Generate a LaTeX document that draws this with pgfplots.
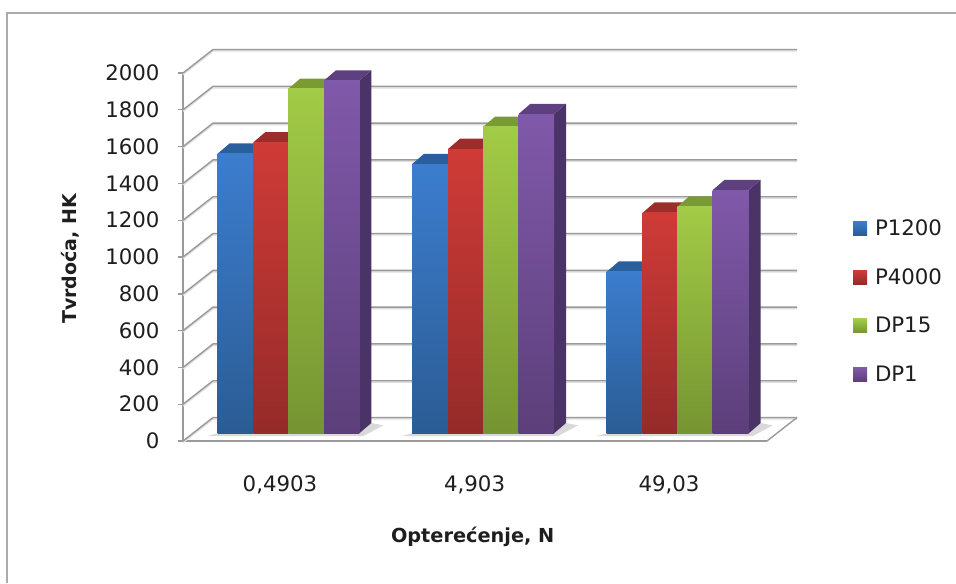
\documentclass[border=0pt]{standalone}
\usepackage{pgfplots}
\usepackage{fontspec}
\setmainfont{DejaVu Sans}
\pgfplotsset{compat=1.18}
\definecolor{gridc}{HTML}{9A9A9A}
\definecolor{gridl}{HTML}{DDDDDD}
\definecolor{frm}{HTML}{ABABAB}
\definecolor{txt}{HTML}{1E1E1E}
\definecolor{blueT}{HTML}{3C7DCE}\definecolor{blueB}{HTML}{2B5C94}\definecolor{blueH}{HTML}{2A5F9E}\definecolor{blueS}{HTML}{234C7C}
\definecolor{redT}{HTML}{CF3B37}\definecolor{redB}{HTML}{942B29}\definecolor{redH}{HTML}{9C2D2A}\definecolor{redS}{HTML}{7A2422}
\definecolor{greenT}{HTML}{A2CB46}\definecolor{greenB}{HTML}{759432}\definecolor{greenH}{HTML}{7A9A34}\definecolor{greenS}{HTML}{607A2A}
\definecolor{purpT}{HTML}{8059AA}\definecolor{purpB}{HTML}{5C3F7A}\definecolor{purpH}{HTML}{5E4080}\definecolor{purpS}{HTML}{4A3366}
\newcommand{\gridline}[1]{%
  \pgfmathsetmacro\ya{#1}\pgfmathsetmacro\yb{#1+127.7}\pgfmathsetmacro\yc{#1-8}\pgfmathsetmacro\yd{#1+119.7}%
  \addplot[gridl,line width=1.5bp,forget plot] coordinates {(183,\yc)(213,\yd)(797,\yd)};
  \addplot[gridc,line width=1.4bp,forget plot] coordinates {(183,\ya)(213,\yb)(797,\yb)};
}
\newcommand{\tdbar}[4]{%
  \pgfmathsetmacro\ytop{41.8+#3}\pgfmathsetmacro\ytb{97.8+#3}\pgfmathsetmacro\xbb{#2+12}\pgfmathsetmacro\xab{#1+12}%
  \addplot[draw=none,fill=#4S,forget plot] coordinates {(#2,41.8)(\xbb,97.8)(\xbb,\ytb)(#2,\ytop)} --cycle;
  \addplot[draw=none,fill=#4H,forget plot] coordinates {(#1,\ytop)(\xab,\ytb)(\xbb,\ytb)(#2,\ytop)} --cycle;
  \addplot[draw=none,top color=#4T,bottom color=#4B,forget plot] coordinates {(#1,41.8)(#2,41.8)(#2,\ytop)(#1,\ytop)} --cycle;
}
\newcommand{\floorshadow}[2]{%
  \pgfmathsetmacro\sa{#1-10}\pgfmathsetmacro\sb{#2+4}\pgfmathsetmacro\sc{#2+24}\pgfmathsetmacro\sd{#2+12}%
  \addplot[draw=none,fill=black!15,forget plot] coordinates {(\sa,27)(\sb,27)(\sc,85)(\sd,98)(#2,42)(#1,42)} --cycle;
}
\begin{document}
\begin{tikzpicture}
\begin{axis}[
  x=1bp,y=0.184bp,
  xmin=183,xmax=767,ymin=0,ymax=2000,
  clip=false,
  axis x line=bottom,axis y line=left,
  axis line style={gridc,line width=1.6bp,-},
  xtick={280,474.6,669},
  xticklabels={{0,4903},{4,903},{49,03}},
  ytick={0,200,400,600,800,1000,1200,1400,1600,1800,2000},
  major tick length=5bp,
  xtick style={draw=none},
  ytick style={gridc,line width=1.4bp},
  tick align=outside,
  /pgf/number format/1000 sep={},
  /pgf/number format/assume math mode=true,
  tick label style={font=\fontsize{21.3bp}{25bp}\selectfont,text=txt},
  x tick label style={yshift=-26.5bp},
  y tick label style={xshift=-15bp},
  xlabel={Opterećenje, N},
  ylabel={Tvrdoća, HK},
  every axis x label/.style={at={(rel axis cs:0.496,-0.261)},anchor=center,font=\fontsize{19.3bp}{23bp}\selectfont\bfseries,text=txt},
  every axis y label/.style={at={(rel axis cs:-0.193,0.495)},anchor=center,rotate=90,font=\fontsize{19bp}{23bp}\selectfont\bfseries,text=txt},
  legend style={at={(axis cs:853,1213)},anchor=north west,draw=none,fill=none,inner sep=0pt,outer sep=0pt,
    font=\fontsize{21.3bp}{25bp}\selectfont,text=txt,row sep=27.5bp},
  legend cell align=left,
  legend image code/.code={\path[#1] (0bp,-7bp) rectangle (14bp,7bp);\path (20bp,0bp);},
]
\addlegendimage{draw=none,top color=blueT,bottom color=blueB}\addlegendentry{P1200}
\addlegendimage{draw=none,top color=redT,bottom color=redB}\addlegendentry{P4000}
\addlegendimage{draw=none,top color=greenT,bottom color=greenB}\addlegendentry{DP15}
\addlegendimage{draw=none,top color=purpT,bottom color=purpB}\addlegendentry{DP1}
\addplot[frm,line width=2bp,forget plot] coordinates {(7,-771.7)(7,2326)(956,2326)};
\gridline{0}\gridline{200}\gridline{400}\gridline{600}\gridline{800}\gridline{1000}
\gridline{1200}\gridline{1400}\gridline{1600}\gridline{1800}\gridline{2000}
\addplot[gridc,line width=1.4bp,forget plot] coordinates {(767,0)(797,127.7)};
\floorshadow{217.7}{359.3}\floorshadow{412}{554}\floorshadow{606.7}{748.7}
% group 0,4903
\tdbar{217.7}{253.3}{1520}{blue}
\tdbar{253.3}{288.3}{1581}{red}
\tdbar{288.3}{324}{1872}{green}
\tdbar{324}{359.3}{1917}{purp}
% group 4,903
\tdbar{412}{448}{1463}{blue}
\tdbar{448}{483}{1545}{red}
\tdbar{483}{518.5}{1665}{green}
\tdbar{518.5}{554}{1735}{purp}
% group 49,03
\tdbar{606.7}{642.7}{878}{blue}
\tdbar{642.7}{677.3}{1199}{red}
\tdbar{677.3}{712.7}{1232}{green}
\tdbar{712.7}{748.7}{1322}{purp}
\coordinate (bbA) at (axis cs:0,2396.7);
\coordinate (bbB) at (axis cs:956,-771.7);
\end{axis}
\pgfresetboundingbox
\path[use as bounding box] (bbA) rectangle (bbB);
\end{tikzpicture}
\end{document}
